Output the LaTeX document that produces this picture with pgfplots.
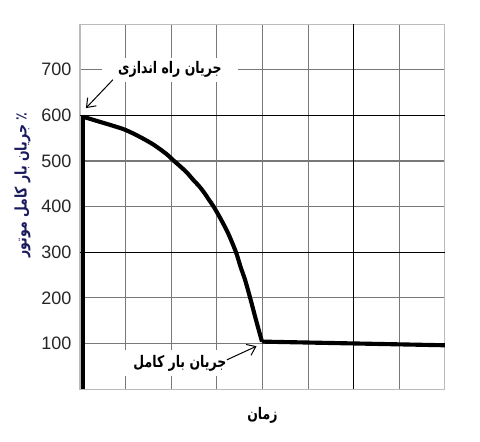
\documentclass[border=0pt]{standalone}
\usepackage{fontspec}
\setmainfont{Liberation Sans}
\newfontfamily\arabicfont[Script=Arabic]{DejaVu Sans}
\TeXXeTstate=1
\usepackage{pgfplots}
\pgfplotsset{compat=1.18}
\usetikzlibrary{arrows.meta}
\definecolor{gridgray}{HTML}{787878}
\definecolor{labelnavy}{HTML}{1A1A5E}
% Arabic text, narrowed to the width of the original face
\newcommand{\ar}[1]{\scalebox{0.78}[1]{\arabicfont\bfseries\fontsize{12}{14}\selectfont\beginR #1\endR}}

\begin{document}
\begin{tikzpicture}
\begin{axis}[
    scale only axis,
    width=273.75pt, height=273.75pt,
    xmin=0, xmax=8,
    ymin=0, ymax=800,
    xtick={1,...,7}, xticklabels={},
    ytick={100,200,...,700},
    major tick length=0pt,
    grid=major,
    major grid style={gridgray, line width=0.8pt},
    axis line style={gridgray!50, line width=0.8pt},
    extra x ticks={6}, extra x tick labels={},
    extra y ticks={300,600}, extra y tick labels={},
    extra tick style={major grid style={black, line width=0.8pt}},
    tick label style={font=\fontsize{13.5}{15}\selectfont, text=black!85},
    yticklabel style={xshift=-3pt},
    /pgf/number format/assume math mode=true,
    clip=false,
]
    % starting jump
    \addplot[black, line width=3.1pt] coordinates {(0.07,0) (0.07,600)};
    % run-up curve
    \addplot[black, line width=3.1pt, smooth, line join=round] coordinates {
        (0.07,597) (0.365,588) (0.73,577) (1.0,568) (1.31,553) (1.61,536)
        (1.9,515) (2.04,502) (2.2,488) (2.35,474) (2.47,460) (2.61,445)
        (2.72,431) (2.82,416) (2.93,400) (3.09,372) (3.25,341) (3.42,300)
        (3.52,268) (3.62,239) (3.73,200) (3.86,151) (3.99,104)
    };
    % full load
    \addplot[black, line width=3.1pt, line join=round] coordinates {(3.99,104) (6,100) (8,96)};

    \node[fill=white, inner xsep=12pt, inner ysep=3pt] at (axis cs:1.97,700) {\ar{جریان راه اندازی}};
    \draw[line width=0.75pt, -{Straight Barb[length=6pt,width=9pt]}]
        (axis cs:0.72,678) -- (axis cs:0.13,616);

    \node[fill=white, inner xsep=6pt, inner ysep=4pt] at (axis cs:2.19,57) {\ar{جریان بار کامل}};
    \draw[line width=0.75pt, -{Straight Barb[length=6pt,width=9pt]}]
        (axis cs:3.22,64) -- (axis cs:3.87,94);

    \node at (axis cs:4,-57) {\ar{زمان}};
    \node[rotate=90, text=labelnavy] at (axis cs:-1.26,447) {\ar{٪ جریان بار کامل موتور}};

    \coordinate (bl) at (axis cs:-1.754,-114);
    \coordinate (tr) at (axis cs:8.77,853);
\end{axis}
\pgfresetboundingbox
\path[use as bounding box] (bl) rectangle (tr);
\end{tikzpicture}
\end{document}
